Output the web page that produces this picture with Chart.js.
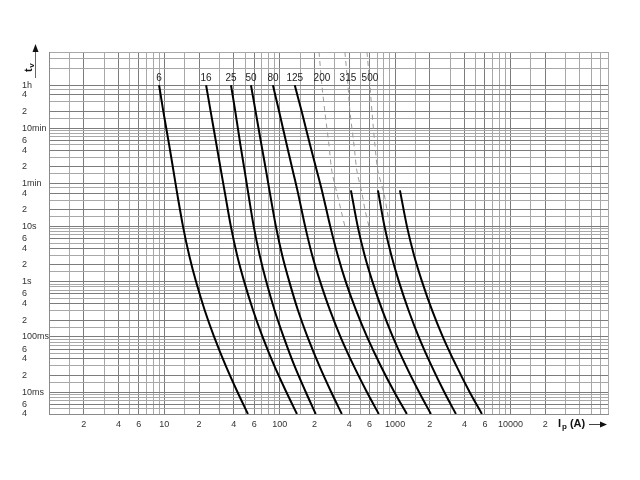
<!DOCTYPE html>
<html><head><meta charset="utf-8">
<script src="https://cdn.jsdelivr.net/npm/chart.js@4/dist/chart.umd.min.js"></script>
<style>html,body{margin:0;padding:0;background:#fff}#wrap{width:640px;height:480px}</style>
</head><body><div id="wrap"><canvas id="c" width="640" height="480"></canvas></div>
<script>
// ---- data ----
const ratings = ['6','16','25','50','80','125','200','315','500'];
const timesMain = [3600,1200,300,100,40,10,3,1,0.3,0.1,0.03,0.01,0.004];
const i6   = [9, 9.8, 11, 12, 12.9, 14.5, 16.4, 18.8, 22.4, 27, 34, 43, 53];
const i16  = [23, 25.2, 28.3, 31, 33.5, 37.7, 42.7, 49.2, 58.8, 71, 89.6, 114, 141];
const i25  = [37.8, 41.2, 45.6, 49.7, 53.3, 59.5, 67, 76.4, 90.3, 108, 134, 168, 205];
const i50  = [56.3, 61.8, 69.4, 76.2, 82.2, 92.6, 105, 121, 144, 174, 220, 279, 345];
const i80  = [87.3, 98.8, 115, 130, 144, 166, 191, 224, 273, 336, 437, 569, 722];
const i125 = [135, 155, 183, 210, 235, 274, 318, 373, 459, 571, 749, 984, 1263];
const timesLow = [45,10,3,1,0.3,0.1,0.03,0.01,0.004];
const i200 = [414, 474, 544, 636, 775, 955, 1238, 1611, 2043];
const i315 = [710, 809, 927, 1079, 1309, 1601, 2064, 2665, 3365];
const i500 = [1101, 1266, 1458, 1711, 2093, 2590, 3385, 4422, 5652];
const timesDashed = [14400,3600,1200,300,100,40,20,10];
const d200 = [219, 232, 246, 267, 283, 313, 339, 367];
const d315 = [367, 390, 406, 440, 467, 516, 548, 593];
const d500 = [570, 605, 630, 668, 710, 800, 849, 902];

const yTickValues = [3600,2400,1200,600,360,240,120,60,40,20,10,6,4,2,1,0.6,0.4,0.2,0.1,0.06,0.04,0.02,0.01,0.006,0.004];
const yTickLabels = ['1h','4','2','10min','6','4','2','1min','4','2','10s','6','4','2','1s','6','4','2','100ms','6','4','2','10ms','6','4'];
const xTickValues = [2,4,6,10,20,40,60,100,200,400,600,1000,2000,4000,6000,10000,20000];
const xTickLabels = ['2','4','6','10','2','4','6','100','2','4','6','1000','2','4','6','10000','2'];

// ---- grid values ----
const mult = [1,1.5,2,3,4,5,6,7,8,9];
const xGrid = [];
for (let e = 0; e <= 4; e++) for (const m of mult) { const v = parseFloat((m*Math.pow(10,e)).toPrecision(6)); if (v <= 70000) xGrid.push(v); }
xGrid.push(70000);
const yGridSet = new Set();
for (let e = -3; e <= 1; e++) for (const m of mult) { const v = parseFloat((m*Math.pow(10,e)).toPrecision(6)); if (v >= 0.004 && v < 60) yGridSet.add(v); }
for (const m of [1,1.5,2,3,4,5,6,7,8,9,10,15,20,30,40,50]) yGridSet.add(m*60);
for (const h of [1,2,3,4]) yGridSet.add(h*3600);
const yGrid = [...yGridSet].sort((a,b)=>a-b);

function findLabel(vals, labels, v) {
  for (let i = 0; i < vals.length; i++) if (Math.abs(Math.log10(vals[i]) - Math.log10(v)) < 1e-6) return labels[i];
  return null;
}
const pts = (xs, ts) => xs.map((x,i)=>({x:x, y:ts[i]}));

const FONT = '"Liberation Sans", Arial, sans-serif';
const solid = (lab, xs, ts) => ({curveLabel: lab, data: pts(xs, ts), borderColor:'#000', borderWidth:2, tension:0.3, pointRadius:0, fill:false});
const dashed = (lab, xs, ts) => ({curveLabel: lab, data: pts(xs, ts), borderColor:'#9a9a9a', borderWidth:1, borderDash:[5,4], tension:0.3, pointRadius:0, fill:false});

const labelPlugin = {
  id:'labels',
  afterDraw(chart) {
    const ctx = chart.ctx;
    ctx.save();
    ctx.fillStyle = '#222';
    ctx.font = '10px ' + FONT;
    ctx.textAlign = 'center'; ctx.textBaseline = 'middle';
    chart.data.datasets.forEach((ds, i) => {
      if (!ds.curveLabel) return;
      const idx = ds.data.findIndex(p => p.y === 3600);
      if (idx < 0) return;
      const el = chart.getDatasetMeta(i).data[idx];
      ctx.fillText(ds.curveLabel, el.x, el.y - 7);
    });
    // y axis title t_v rotated with arrow
    ctx.save();
    ctx.translate(29, 72);
    ctx.rotate(-Math.PI/2);
    ctx.textAlign = 'left'; ctx.textBaseline = 'middle';
    ctx.font = 'bold 11px ' + FONT;
    ctx.fillStyle = '#111';
    ctx.fillText('t', 0, 0);
    const tw = ctx.measureText('t').width;
    ctx.font = 'bold 8px ' + FONT;
    ctx.fillText('v', tw + 0.5, 3);
    ctx.restore();
    ctx.strokeStyle = '#666'; ctx.lineWidth = 1;
    ctx.beginPath(); ctx.moveTo(35.5, 78); ctx.lineTo(35.5, 50); ctx.stroke();
    ctx.fillStyle = '#111';
    ctx.beginPath(); ctx.moveTo(35.5, 44); ctx.lineTo(32.5, 52); ctx.lineTo(38.5, 52); ctx.closePath(); ctx.fill();
    // x axis title
    ctx.textAlign = 'left'; ctx.textBaseline = 'middle';
    ctx.font = 'bold 11px ' + FONT;
    ctx.fillText('I', 558, 424);
    let x = 558 + ctx.measureText('I').width + 1;
    ctx.font = 'bold 8px ' + FONT;
    ctx.fillText('p', x, 427);
    x += ctx.measureText('p').width + 3;
    ctx.font = 'bold 11px ' + FONT;
    ctx.fillText('(A)', x, 424);
    ctx.strokeStyle = '#444';
    ctx.beginPath(); ctx.moveTo(589, 424.5); ctx.lineTo(602, 424.5); ctx.stroke();
    ctx.beginPath(); ctx.moveTo(607, 424.5); ctx.lineTo(600, 421.5); ctx.lineTo(600, 427.5); ctx.closePath(); ctx.fill();
    ctx.restore();
  }
};

new Chart(document.getElementById('c'), {
  type: 'line',
  data: {
    datasets: [
      dashed(ratings[6], d200, timesDashed),
      dashed(ratings[7], d315, timesDashed),
      dashed(ratings[8], d500, timesDashed),
      solid(ratings[0], i6, timesMain),
      solid(ratings[1], i16, timesMain),
      solid(ratings[2], i25, timesMain),
      solid(ratings[3], i50, timesMain),
      solid(ratings[4], i80, timesMain),
      solid(ratings[5], i125, timesMain),
      solid(null, i200, timesLow),
      solid(null, i315, timesLow),
      solid(null, i500, timesLow)
    ]
  },
  options: {
    responsive: false, animation: false,
    layout: {padding: {left: 22, right: 32, top: 52, bottom: 0}},
    plugins: {legend: {display: false}, tooltip: {enabled: false}},
    scales: {
      x: {
        type: 'logarithmic', min: 1, max: 70000,
        afterBuildTicks: s => { s.ticks = xGrid.map(v => ({value: v})); },
        afterFit: s => { s.height = 66; },
        ticks: {
          autoSkip: false, maxRotation: 0, minRotation: 0, padding: 5,
          color: '#333', font: {size: 9, family: FONT},
          callback: v => findLabel(xTickValues, xTickLabels, v) || ''
        },
        grid: {drawTicks: false, lineWidth: 1,
          color: c => (c.tick && findLabel(xTickValues, xTickLabels, c.tick.value) !== null) ? '#7c7c7c' : '#a8a8a8'},
        border: {color: '#8a8a8a'}
      },
      y: {
        type: 'logarithmic', min: 0.004, max: 14400,
        afterBuildTicks: s => { s.ticks = yGrid.map(v => ({value: v})); },
        afterFit: s => { s.width = 27; },
        ticks: {
          autoSkip: false, crossAlign: 'far', padding: 0,
          color: '#333', font: {size: 9, family: FONT},
          callback: v => findLabel(yTickValues, yTickLabels, v) || ''
        },
        grid: {drawTicks: false, lineWidth: 1,
          color: c => (c.tick && findLabel(yTickValues, yTickLabels, c.tick.value) !== null) ? '#7c7c7c' : '#a8a8a8'},
        border: {color: '#8a8a8a'}
      }
    }
  },
  plugins: [labelPlugin]
});
</script>
</body></html>
